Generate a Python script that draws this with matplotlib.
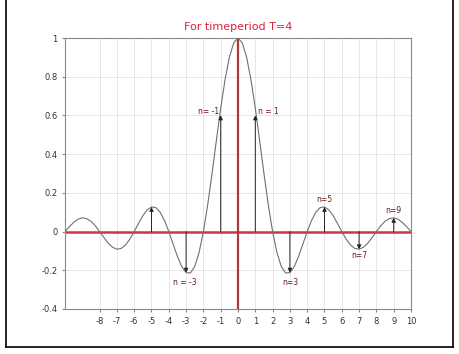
import matplotlib
matplotlib.use("Agg")
import matplotlib.pyplot as plt
from matplotlib.lines import Line2D

plt.rcParams["axes.unicode_minus"] = False

# Curve samples (x step 0.25 from -10 to 10)
curve_half = [1.0, 0.974, 0.900, 0.784, 0.637, 0.471, 0.300, 0.139, 0.0,
              -0.108, -0.180, -0.214, -0.212, -0.181, -0.129, -0.065, 0.0,
              0.057, 0.100, 0.124, 0.127, 0.112, 0.082, 0.042, 0.0,
              -0.039, -0.069, -0.087, -0.091, -0.081, -0.060, -0.031, 0.0,
              0.030, 0.053, 0.067, 0.071, 0.064, 0.047, 0.025, 0.0]
curve_x = [i * 0.25 for i in range(-40, 41)]
curve_y = curve_half[::-1] + curve_half[1:]

# Stems (arrows) at odd n
stem_n = [-5, -3, -1, 1, 3, 5, 7, 9]
stem_v = [0.127, -0.212, 0.60, 0.60, -0.212, 0.127, -0.091, 0.071]
stem_labels = {-1: "n= -1", 1: "n = 1", -3: "n = -3", 3: "n=3",
               5: "n=5", 7: "n=7", 9: "n=9"}

xticks = list(range(-8, 11))
yticks = [1, 0.8, 0.6, 0.4, 0.2, 0, -0.2, -0.4]
ytick_labels = ["1", "0.8", "0.6", "0.4", "0.2", "0", "-0.2", "-0.4"]

fig = plt.figure(figsize=(4.6, 3.54), dpi=100)
ax = fig.add_axes([65/460, 1-309/354, (411-65)/460, (309-38)/354])

ax.grid(True, color="#e2e2e2", lw=0.6)
ax.set_axisbelow(True)
ax.axhline(0, color="#d0334a", lw=1.8, zorder=2)
ax.axvline(0, color="#a83a3a", lw=1.6, zorder=2)
ax.plot(curve_x, curve_y, color="#707070", lw=0.8, zorder=3)

for n, v in zip(stem_n, stem_v):
    ax.annotate("", xy=(n, v), xytext=(n, 0),
                arrowprops=dict(arrowstyle="-|>", color="#222222", lw=0.7,
                                mutation_scale=6, shrinkA=0, shrinkB=0),
                zorder=4)

lab_kw = dict(fontsize=5.5, color="#6b1a1a")
ax.text(-1.1, 0.62, stem_labels[-1], ha="right", va="center", **lab_kw)
ax.text(1.15, 0.62, stem_labels[1], ha="left", va="center", **lab_kw)
ax.text(-3.1, -0.265, stem_labels[-3], ha="center", va="center", **lab_kw)
ax.text(3.0, -0.265, stem_labels[3], ha="center", va="center", **lab_kw)
ax.text(5.0, 0.165, stem_labels[5], ha="center", va="center", **lab_kw)
ax.text(7.0, -0.125, stem_labels[7], ha="center", va="center", **lab_kw)
ax.text(9.0, 0.107, stem_labels[9], ha="center", va="center", **lab_kw)

ax.set_xlim(-10, 10)
ax.set_ylim(-0.4, 1)
ax.set_xticks(xticks)
ax.set_yticks(yticks)
ax.set_yticklabels(ytick_labels)
ax.tick_params(labelsize=6, length=2, color="#888888", labelcolor="#333333")
for s in ax.spines.values():
    s.set_color("#888888")
    s.set_linewidth(0.8)

ax.set_title("For timeperiod T=4", color="#e0203a", fontsize=8, pad=6)

# outer frame (left, right, bottom)
fig.add_artist(Line2D([6/460, 6/460], [1-347/354, 1.0], color="black", lw=1.2))
fig.add_artist(Line2D([453/460, 453/460], [1-347/354, 1.0], color="black", lw=1.2))
fig.add_artist(Line2D([6/460, 453/460], [1-347/354, 1-347/354], color="black", lw=1.2))

fig.savefig("out.png", dpi=100)
